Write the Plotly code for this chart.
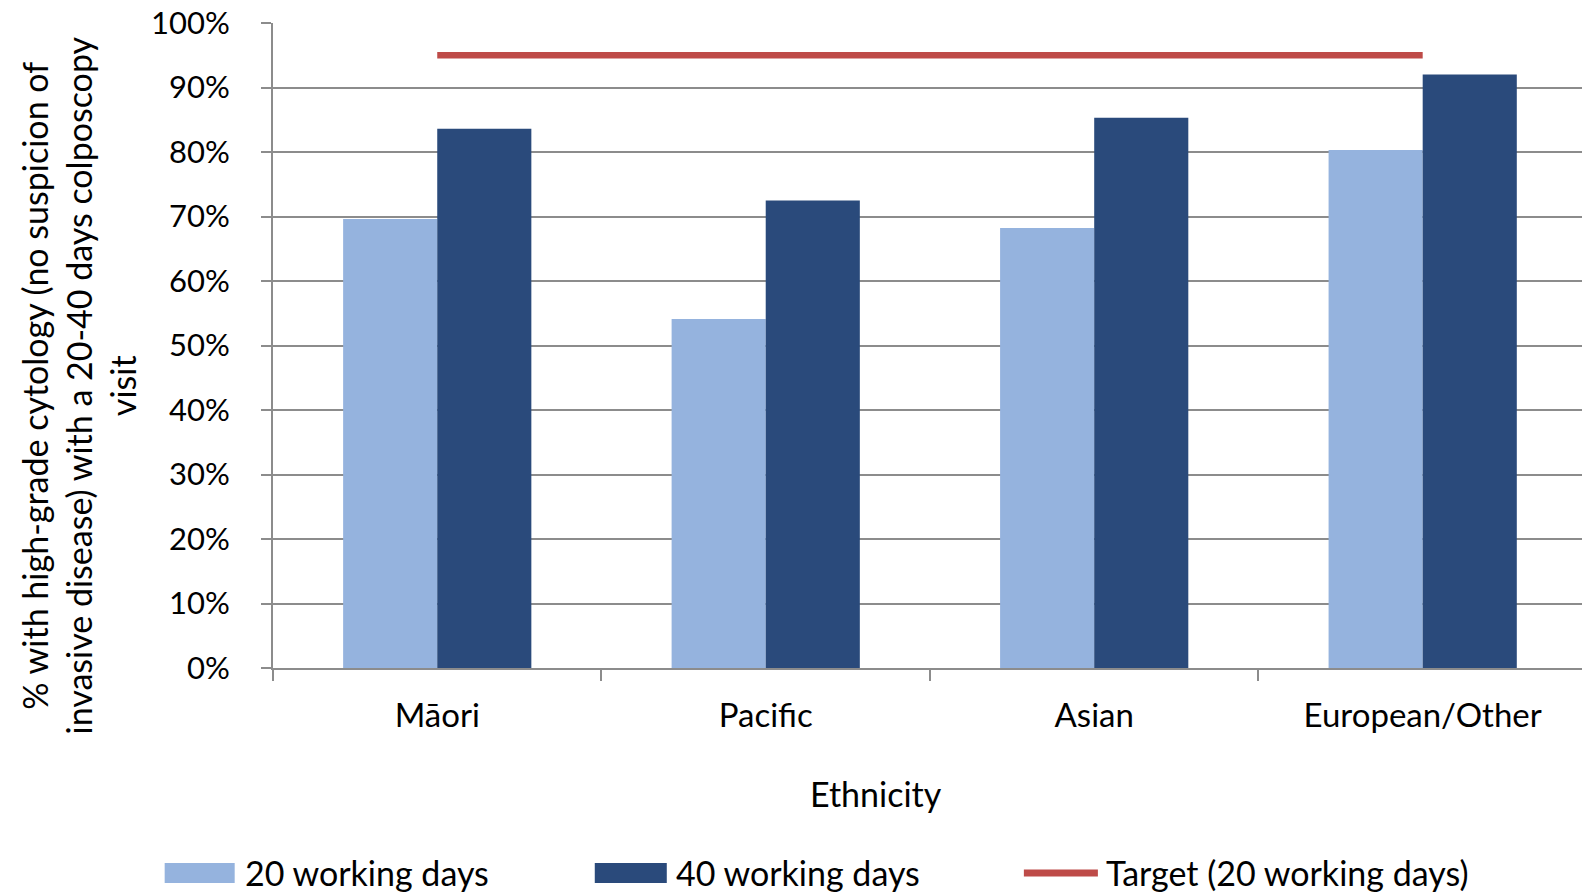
import plotly.graph_objects as go

# Share of women with high-grade cytology seen at colposcopy, by ethnicity
ethnicities = ["Māori", "Pacific", "Asian", "European/Other"]
within_20_days = [0.696, 0.541, 0.682, 0.803]
within_40_days = [0.836, 0.725, 0.853, 0.920]
target_20_days = [0.95, 0.95, 0.95, 0.95]

series_names = ["20 working days", "40 working days", "Target (20 working days)"]
y_ticks = [i / 10 for i in range(11)]

LIGHT = "#95B3DE"
DARK = "#2A4A7B"
RED = "#BE4B48"
GRID = "#8C8C8C"
INK = "#000000"
FONT = "Lato"

W, H = 1582, 893
L, R, T, B = 273.3, 1582.0, 23.3, 668.0


def fx(px):
    return (px - L) / (R - L)


def fy(py):
    return (B - py) / (B - T)


fig = go.Figure()
fig.add_trace(go.Bar(x=ethnicities, y=within_20_days, name=series_names[0],
                     marker=dict(color=LIGHT, line=dict(width=0)), showlegend=False))
fig.add_trace(go.Bar(x=ethnicities, y=within_40_days, name=series_names[1],
                     marker=dict(color=DARK, line=dict(width=0)), showlegend=False))
fig.add_trace(go.Scatter(x=ethnicities, y=target_20_days, name=series_names[2],
                         mode="lines", line=dict(color=RED, width=6.5),
                         showlegend=False))

# Legend row drawn as swatches plus labels
shapes = [
    dict(type="rect", xref="paper", yref="paper", x0=fx(165), x1=fx(235),
         y0=fy(883), y1=fy(863), fillcolor=LIGHT, line=dict(width=0)),
    dict(type="rect", xref="paper", yref="paper", x0=fx(595), x1=fx(667),
         y0=fy(883), y1=fy(863), fillcolor=DARK, line=dict(width=0)),
    dict(type="line", xref="paper", yref="paper", x0=fx(1024), x1=fx(1098),
         y0=fy(873), y1=fy(873), line=dict(color=RED, width=7)),
]

legend_font = dict(family=FONT, size=34, color=INK)
title_font = dict(family=FONT, size=34, color=INK)
annotations = [
    dict(text=series_names[0], x=fx(243), y=fy(872), xref="paper", yref="paper",
         xanchor="left", yanchor="middle", showarrow=False, font=legend_font),
    dict(text=series_names[1], x=fx(674), y=fy(872), xref="paper", yref="paper",
         xanchor="left", yanchor="middle", showarrow=False, font=legend_font),
    dict(text=series_names[2], x=fx(1104), y=fy(872), xref="paper", yref="paper",
         xanchor="left", yanchor="middle", showarrow=False, font=legend_font),
    dict(text="Ethnicity", x=fx(876), y=fy(793), xref="paper", yref="paper",
         xanchor="center", yanchor="middle", showarrow=False, font=title_font),
    dict(text="% with high-grade cytology (no suspicion of<br>"
              "invasive disease) with a 20-40 days colposcopy<br>visit",
         x=fx(79), y=fy(386), xref="paper", yref="paper", textangle=-90,
         xanchor="center", yanchor="middle", showarrow=False, font=title_font),
]

fig.update_layout(
    width=W, height=H,
    margin=dict(l=273, r=0, t=23, b=225),
    paper_bgcolor="white", plot_bgcolor="white",
    barmode="group", bargap=0.427, bargroupgap=0,
    font=dict(family=FONT, size=33, color=INK),
    shapes=shapes, annotations=annotations,
    xaxis=dict(
        type="category", range=[-0.5, 3.485],
        showline=True, linecolor=GRID, linewidth=2,
        ticks="outside", tickson="boundaries", ticklen=11, tickwidth=2,
        tickcolor=GRID, showgrid=False, ticklabelstandoff=17,
        tickfont=dict(family=FONT, size=33, color=INK),
    ),
    yaxis=dict(
        range=[0, 1], tickvals=y_ticks, tickformat=".0%",
        showline=True, linecolor=GRID, linewidth=2,
        ticks="outside", ticklen=10, tickwidth=2, tickcolor=GRID,
        showgrid=True, gridcolor=GRID, gridwidth=2, zeroline=False,
        ticklabelstandoff=25,
        tickfont=dict(family=FONT, size=31, color=INK),
    ),
)

fig.write_html("out.html")
